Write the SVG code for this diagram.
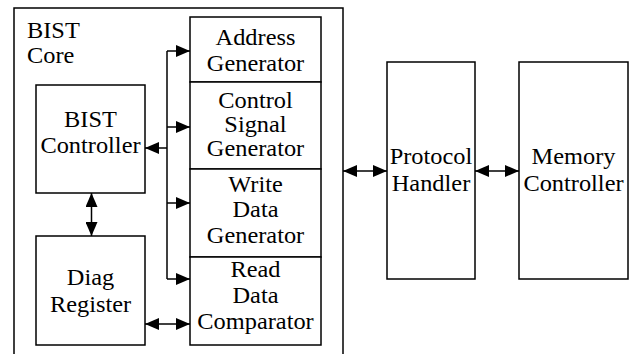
<svg xmlns="http://www.w3.org/2000/svg" width="634" height="354" viewBox="0 0 634 354">
  <style>
    .box { fill: #ffffff; stroke: #000000; stroke-width: 1.5; }
    .wire { fill: none; stroke: #000000; stroke-width: 1.5; }
    .lbl { font-family: "Liberation Serif", "Times New Roman", serif; font-size: 23px; fill: #000000; text-anchor: middle; }
    .lbl-left { text-anchor: start; }
  </style>
  <defs>
    <marker id="head" viewBox="0 0 14 12" markerWidth="14" markerHeight="12" refX="14" refY="6" markerUnits="userSpaceOnUse" orient="auto-start-reverse">
      <path d="M0,0 L14,6 L0,12 z" fill="#000000"/>
    </marker>
  </defs>

  <rect width="634" height="354" fill="#ffffff"/>

  <!-- BIST core enclosure (continues below the bottom edge) -->
  <g id="bist-core">
    <rect class="box" x="14" y="8" width="329" height="360" fill="none"/>
    <text class="lbl lbl-left" transform="translate(27 0) scale(1.06 1)"><tspan x="0" y="38">BIST</tspan><tspan x="0" y="63">Core</tspan></text>
  </g>

  <g id="bist-controller">
    <rect class="box" x="36" y="85" width="109" height="108"/>
    <text class="lbl" transform="translate(90.5 0) scale(1.06 1)"><tspan x="0" y="127">BIST</tspan><tspan x="0" y="153">Controller</tspan></text>
  </g>

  <g id="diag-register">
    <rect class="box" x="36" y="236" width="109" height="109"/>
    <text class="lbl" transform="translate(90.5 0) scale(1.06 1)"><tspan x="0" y="285">Diag</tspan><tspan x="0" y="312">Register</tspan></text>
  </g>

  <g id="address-generator">
    <rect class="box" x="190" y="17" width="131" height="65"/>
    <text class="lbl" transform="translate(255.5 0) scale(1.06 1)"><tspan x="0" y="45">Address</tspan><tspan x="0" y="71">Generator</tspan></text>
  </g>

  <g id="control-signal-generator">
    <rect class="box" x="190" y="82" width="131" height="87"/>
    <text class="lbl" transform="translate(255.5 0) scale(1.06 1)"><tspan x="0" y="108">Control</tspan><tspan x="0" y="132">Signal</tspan><tspan x="0" y="156">Generator</tspan></text>
  </g>

  <g id="write-data-generator">
    <rect class="box" x="190" y="169" width="131" height="88"/>
    <text class="lbl" transform="translate(255.5 0) scale(1.06 1)"><tspan x="0" y="192">Write</tspan><tspan x="0" y="217">Data</tspan><tspan x="0" y="243">Generator</tspan></text>
  </g>

  <g id="read-data-comparator">
    <rect class="box" x="190" y="257" width="131" height="88"/>
    <text class="lbl" transform="translate(255.5 0) scale(1.06 1)"><tspan x="0" y="277">Read</tspan><tspan x="0" y="303">Data</tspan><tspan x="0" y="329">Comparator</tspan></text>
  </g>

  <g id="protocol-handler">
    <rect class="box" x="387" y="62" width="88" height="217"/>
    <text class="lbl" transform="translate(431 0) scale(1.06 1)"><tspan x="0" y="164">Protocol</tspan><tspan x="0" y="191">Handler</tspan></text>
  </g>

  <g id="memory-controller">
    <rect class="box" x="519" y="62" width="109" height="217"/>
    <text class="lbl" transform="translate(573.5 0) scale(1.06 1)"><tspan x="0" y="164">Memory</tspan><tspan x="0" y="191">Controller</tspan></text>
  </g>

  <g id="connectors">
    <!-- controller bus -->
    <path class="wire" d="M167,51 V279"/>
    <path class="wire" d="M167,51 H190" marker-end="url(#head)"/>
    <path class="wire" d="M167,127 H190" marker-end="url(#head)"/>
    <path class="wire" d="M167,203 H190" marker-end="url(#head)"/>
    <path class="wire" d="M167,279 H190" marker-end="url(#head)"/>
    <path class="wire" d="M167,148 H145" marker-end="url(#head)"/>
    <!-- bidirectional links -->
    <path class="wire" d="M91.5,193 V236" marker-start="url(#head)" marker-end="url(#head)"/>
    <path class="wire" d="M145,324 H190" marker-start="url(#head)" marker-end="url(#head)"/>
    <path class="wire" d="M343,171 H387" marker-start="url(#head)" marker-end="url(#head)"/>
    <path class="wire" d="M475,171 H519" marker-start="url(#head)" marker-end="url(#head)"/>
  </g>
</svg>
